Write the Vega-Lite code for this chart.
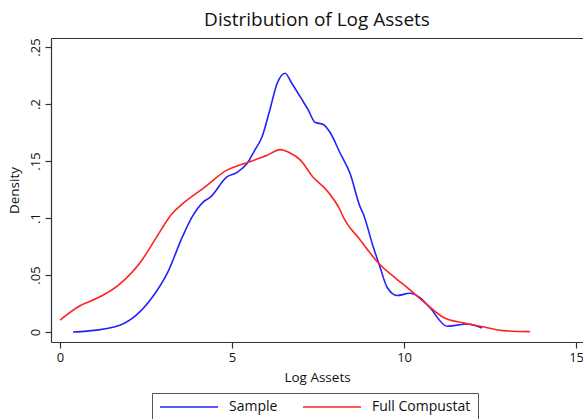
{
  "$schema": "https://vega.github.io/schema/vega-lite/v6.json",
  "autosize": "none",
  "padding": {"left": 51, "top": 38, "right": 0, "bottom": 77},
  "width": 532,
  "height": 304,
  "background": "white",
  "title": {"text": "Distribution of Log Assets", "fontSize": 19, "font": "Open Sans", "fontWeight": "normal", "color": "#111", "offset": 8, "anchor": "middle"},
  "config": {
    "view": {"stroke": null},
    "axis": {"grid": false, "domainColor": "#333", "tickColor": "#333", "labelFont": "Open Sans", "titleFont": "Open Sans", "labelColor": "#111", "titleColor": "#111", "labelFontSize": 13, "titleFontSize": 13.5, "titleFontWeight": "normal", "tickSize": 6, "domainWidth": 1.2, "tickWidth": 1.2}
  },
  "data": {"values": [
    {"x": 0.38, "y": 0.0, "s": "Sample"},
    {"x": 0.78, "y": 0.0008, "s": "Sample"},
    {"x": 1.74, "y": 0.006, "s": "Sample"},
    {"x": 2.67, "y": 0.030, "s": "Sample"},
    {"x": 3.14, "y": 0.053, "s": "Sample"},
    {"x": 3.55, "y": 0.083, "s": "Sample"},
    {"x": 3.84, "y": 0.101, "s": "Sample"},
    {"x": 4.16, "y": 0.114, "s": "Sample"},
    {"x": 4.36, "y": 0.118, "s": "Sample"},
    {"x": 4.85, "y": 0.136, "s": "Sample"},
    {"x": 5.15, "y": 0.140, "s": "Sample"},
    {"x": 5.44, "y": 0.148, "s": "Sample"},
    {"x": 5.67, "y": 0.160, "s": "Sample"},
    {"x": 5.87, "y": 0.171, "s": "Sample"},
    {"x": 6.10, "y": 0.195, "s": "Sample"},
    {"x": 6.31, "y": 0.218, "s": "Sample"},
    {"x": 6.54, "y": 0.227, "s": "Sample"},
    {"x": 6.74, "y": 0.218, "s": "Sample"},
    {"x": 7.03, "y": 0.204, "s": "Sample"},
    {"x": 7.21, "y": 0.195, "s": "Sample"},
    {"x": 7.41, "y": 0.184, "s": "Sample"},
    {"x": 7.65, "y": 0.182, "s": "Sample"},
    {"x": 7.85, "y": 0.175, "s": "Sample"},
    {"x": 8.14, "y": 0.157, "s": "Sample"},
    {"x": 8.43, "y": 0.139, "s": "Sample"},
    {"x": 8.72, "y": 0.110, "s": "Sample"},
    {"x": 8.81, "y": 0.104, "s": "Sample"},
    {"x": 9.10, "y": 0.075, "s": "Sample"},
    {"x": 9.30, "y": 0.057, "s": "Sample"},
    {"x": 9.51, "y": 0.039, "s": "Sample"},
    {"x": 9.80, "y": 0.032, "s": "Sample"},
    {"x": 10.17, "y": 0.034, "s": "Sample"},
    {"x": 10.47, "y": 0.030, "s": "Sample"},
    {"x": 10.76, "y": 0.021, "s": "Sample"},
    {"x": 11.25, "y": 0.005, "s": "Sample"},
    {"x": 11.83, "y": 0.007, "s": "Sample"},
    {"x": 12.27, "y": 0.0035, "s": "Sample"},
    {"x": 0.0, "y": 0.0105, "s": "Full Compustat"},
    {"x": 0.58, "y": 0.023, "s": "Full Compustat"},
    {"x": 1.10, "y": 0.030, "s": "Full Compustat"},
    {"x": 1.69, "y": 0.041, "s": "Full Compustat"},
    {"x": 2.38, "y": 0.063, "s": "Full Compustat"},
    {"x": 2.76, "y": 0.081, "s": "Full Compustat"},
    {"x": 3.26, "y": 0.104, "s": "Full Compustat"},
    {"x": 3.58, "y": 0.113, "s": "Full Compustat"},
    {"x": 4.16, "y": 0.126, "s": "Full Compustat"},
    {"x": 4.85, "y": 0.142, "s": "Full Compustat"},
    {"x": 5.47, "y": 0.149, "s": "Full Compustat"},
    {"x": 6.02, "y": 0.155, "s": "Full Compustat"},
    {"x": 6.40, "y": 0.160, "s": "Full Compustat"},
    {"x": 6.69, "y": 0.157, "s": "Full Compustat"},
    {"x": 6.98, "y": 0.151, "s": "Full Compustat"},
    {"x": 7.35, "y": 0.136, "s": "Full Compustat"},
    {"x": 7.76, "y": 0.124, "s": "Full Compustat"},
    {"x": 8.14, "y": 0.107, "s": "Full Compustat"},
    {"x": 8.23, "y": 0.101, "s": "Full Compustat"},
    {"x": 8.72, "y": 0.081, "s": "Full Compustat"},
    {"x": 9.24, "y": 0.061, "s": "Full Compustat"},
    {"x": 9.80, "y": 0.046, "s": "Full Compustat"},
    {"x": 10.17, "y": 0.037, "s": "Full Compustat"},
    {"x": 10.67, "y": 0.024, "s": "Full Compustat"},
    {"x": 11.13, "y": 0.013, "s": "Full Compustat"},
    {"x": 11.72, "y": 0.008, "s": "Full Compustat"},
    {"x": 12.21, "y": 0.005, "s": "Full Compustat"},
    {"x": 12.88, "y": 0.0012, "s": "Full Compustat"},
    {"x": 13.66, "y": 0.0003, "s": "Full Compustat"}
  ]},
  "layer": [
    {
      "mark": {"type": "line", "interpolate": "monotone", "strokeWidth": 1.6, "clip": true},
      "encoding": {
        "x": {"field": "x", "type": "quantitative", "scale": {"domain": [-0.262, 15.2], "nice": false, "zero": false},
          "axis": {"values": [0, 5, 10, 15], "title": "Log Assets", "labelPadding": 3, "titlePadding": 6}},
        "y": {"field": "y", "type": "quantitative", "scale": {"domain": [-0.00877, 0.2579], "nice": false, "zero": false},
          "axis": {"values": [0, 0.05, 0.1, 0.15, 0.2, 0.25], "title": "Density", "labelAngle": 270, "labelAlign": "center", "labelBaseline": "bottom", "labelPadding": 3, "titlePadding": 8,
            "labelExpr": "datum.value == 0 ? '0' : substring(format(datum.value, '~g'), 1)"}},
        "color": {"field": "s", "type": "nominal", "scale": {"domain": ["Sample", "Full Compustat"], "range": ["#2222ff", "#ff2222"]},
          "legend": {"orient": "none", "legendX": 101, "legendY": 355, "direction": "horizontal", "title": null, "strokeColor": "#555", "padding": 7, "symbolType": "M-6,0H6", "symbolSize": 93.4, "symbolStrokeWidth": 1.6, "symbolOffset": 23, "labelFontSize": 14, "labelFont": "Open Sans", "labelColor": "#111", "columnPadding": 21, "labelOffset": 33}}
      }
    },
    {
      "mark": {"type": "rule", "opacity": 0},
      "encoding": {
        "x": {"field": "x", "type": "quantitative", "aggregate": "min",
          "axis": {"orient": "top", "labels": false, "ticks": false, "title": null, "domain": true}}
      }
    }
  ],
  "resolve": {"axis": {"x": "independent"}}
}
